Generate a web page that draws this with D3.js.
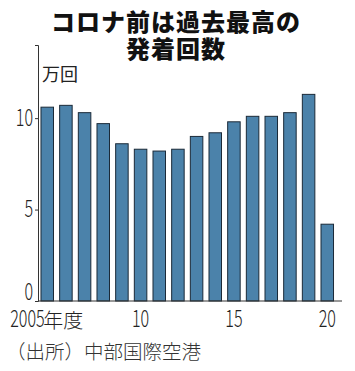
<!DOCTYPE html>
<html>
<head>
<meta charset="utf-8">
<script src="https://cdn.jsdelivr.net/npm/d3@7"></script>
<style>
  body { margin: 0; background: #fff; }
  svg { display: block; }
  .jp { font-family: "Noto Sans CJK JP", sans-serif; }
  .num { font-family: "Noto Sans CJK JP", sans-serif; font-weight: 300; }
</style>
</head>
<body>
<div id="chart"></div>
<script>
// data: arrivals and departures, 10,000 flights
var years = [2005, 2006, 2007, 2008, 2009, 2010, 2011, 2012, 2013, 2014, 2015, 2016, 2017, 2018, 2019, 2020]
var flights = [10.6, 10.7, 10.3, 9.7, 8.6, 8.3, 8.2, 8.3, 9.0, 9.2, 9.8, 10.1, 10.1, 10.3, 11.3, 4.2]
var yTicks = [0, 5, 10]
var xTicks = [2005, 2010, 2015, 2020]
var xTickLabels = ["2005", "10", "15", "20"]
var titleLines = ["コロナ前は過去最高の", "発着回数"]

var width = 355
var height = 371
var squeeze = 0.7   // digits in the original are condensed

var svg = d3.select("#chart")
  .append("svg")
  .attr("width", width)
  .attr("height", height)

// title
svg.selectAll(".title")
  .data(titleLines)
  .enter()
  .append("text")
  .attr("class", "jp")
  .attr("x", 176)
  .attr("y", function(d, i) { return 30.5 + i * 27 })
  .attr("text-anchor", "middle")
  .style("font-size", "24px")
  .style("font-weight", 900)
  .style("letter-spacing", "1px")
  .attr("fill", "#111")
  .text(function(d) { return d })

// scales
var y = d3.scaleLinear()
  .domain([0, 14])
  .range([301, 45])

var x = d3.scaleBand()
  .domain(years)
  .range([38, 336.5])
  .paddingInner(0.33)
  .paddingOuter(0.16)

// unit label
svg.append("text")
  .attr("class", "jp")
  .attr("x", 42)
  .attr("y", 81)
  .style("font-size", "18px")
  .attr("fill", "#222")
  .text("万回")

// bars
svg.selectAll(".bar")
  .data(flights)
  .enter()
  .append("rect")
  .attr("x", function(d, i) { return x(years[i]) })
  .attr("y", function(d) { return y(d) })
  .attr("width", x.bandwidth())
  .attr("height", function(d) { return y(0) - y(d) })
  .attr("fill", "#4b82aa")
  .attr("stroke", "#1b2a38")
  .attr("stroke-width", 1)

// y axis
var yAxis = svg.append("g")
  .attr("transform", "translate(38,0)")
  .call(d3.axisLeft(y).tickValues(yTicks).tickSize(3).tickPadding(2))
yAxis.select(".domain").attr("stroke", "#333")
yAxis.selectAll(".tick line").attr("stroke", "#333")
yAxis.selectAll(".tick text")
  .attr("class", "num")
  .attr("x", -5 / squeeze)
  .attr("transform", "scale(" + squeeze + ",1)")
  .style("font-size", "23px")
  .attr("fill", "#222")
yAxis.selectAll(".tick text")
  .filter(function(d) { return d === 0 })
  .attr("dy", "-0.05em")

// x axis line
svg.append("line")
  .attr("x1", 38)
  .attr("x2", 342)
  .attr("y1", y(0))
  .attr("y2", y(0))
  .attr("stroke", "#333")

// x tick labels
var xLab = svg.selectAll(".xlab")
  .data(xTicks)
  .enter()
  .append("g")
  .attr("transform", function(d, i) {
    var c = x(d) + x.bandwidth() / 2
    return "translate(" + (i === 0 ? c - 37 : c) + ",327)"
  })

xLab.append("text")
  .attr("class", "num")
  .attr("transform", "scale(" + squeeze + ",1)")
  .attr("text-anchor", function(d, i) { return i === 0 ? "start" : "middle" })
  .style("font-size", "23px")
  .attr("fill", "#222")
  .text(function(d, i) { return xTickLabels[i] })

xLab.filter(function(d, i) { return i === 0 })
  .append("text")
  .attr("class", "num")
  .attr("x", 33)
  .attr("y", 1)
  .style("font-size", "20px")
  .attr("fill", "#222")
  .text("年度")

// source
svg.append("text")
  .attr("class", "jp")
  .attr("x", 6)
  .attr("y", 359)
  .style("font-size", "19.5px")
  .style("font-weight", 300)
  .attr("fill", "#333")
  .text("（出所）中部国際空港")
</script>
</body>
</html>
